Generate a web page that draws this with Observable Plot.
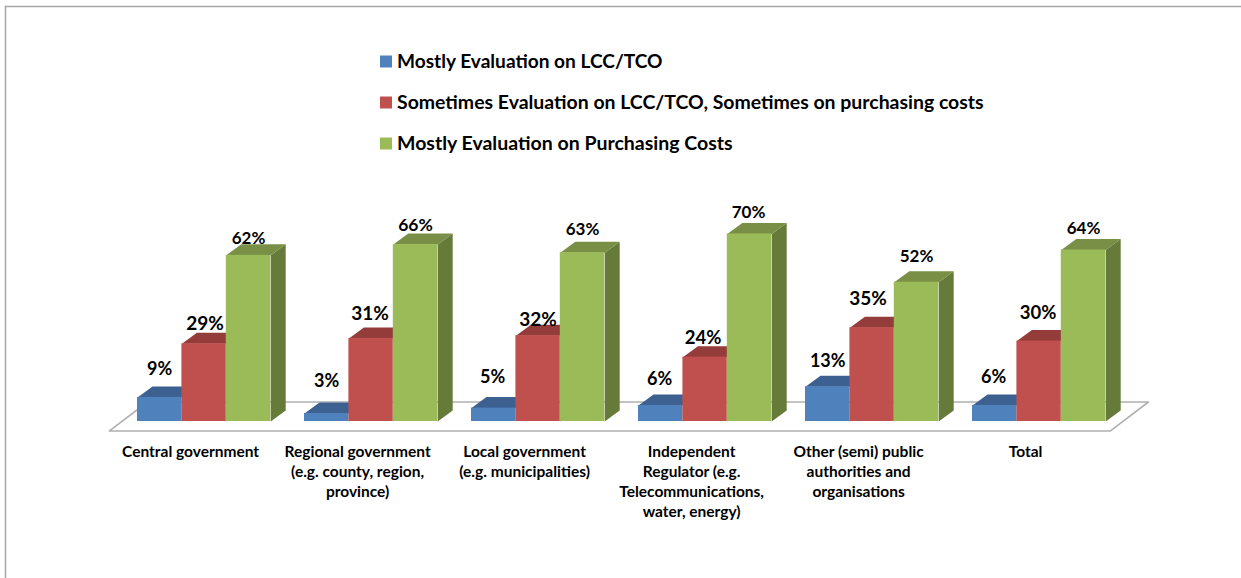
<!DOCTYPE html>
<html><head><meta charset="utf-8">
<style>html,body{margin:0;padding:0;background:#fff}svg{display:block}</style>
<script src="https://cdn.jsdelivr.net/npm/d3@7"></script>
<script src="https://cdn.jsdelivr.net/npm/@observablehq/plot@0.6"></script>
</head><body><div id="chart"></div>
<script>
const categories = ["Central government","Regional government\n(e.g. county, region,\nprovince)","Local government\n(e.g. municipalities)","Independent\nRegulator (e.g.\nTelecommunications,\nwater, energy)","Other (semi) public\nauthorities and\norganisations","Total"];
const seriesNames = ["Mostly Evaluation on LCC/TCO","Sometimes Evaluation on LCC/TCO, Sometimes on purchasing costs","Mostly Evaluation on Purchasing Costs"];
const mostlyLCC = [9,3,5,6,13,6];
const sometimes = [29,31,32,24,35,30];
const mostlyPurchasing = [62,66,63,70,52,64];

const seriesValues = [mostlyLCC, sometimes, mostlyPurchasing];
// styling, kept apart from the data
const front = ["#4f81bd","#c0504d","#9bbb59"], top_ = ["#3c6191","#943c3a","#788f45"], side = ["#3a5d8a","#8e3a38","#667a3a"];
const lift = [[28,32,31,26,25,28],[20,25,16,19,29,28],[17,19,23,21,26,21]];
const shiftX = [[0,0,-1,-1,0,-1],[1,-1,0,-2,-4,-1],[0,0,0,-1,0,0]];
const labelSize = [[18,18,18,18,18,18],[19,19,19,18.5,19,18.5],[17,17.5,17,17,17,17]];
const legendSize = [19.1,19.45,19.5];
const pxPerUnitX = 167, pxPerUnitY = 2.68, originX = 137, originY = 421;
const W = 1241, H = 578;
const barW = 44.4/pxPerUnitX, depthX = 15/pxPerUnitX, depthY = 11/pxPerUnitY;
const font = "Lato, 'Noto Sans', sans-serif";

const floor = [[-0.1677,-3.54],[5.826,-3.54],[6.0535,7.28],[0.0598,7.28]].map(([x,y])=>({x,y}));
const marks = [
  Plot.frame({anchor:"top",insetTop:6,insetLeft:5,stroke:"#a6a6a6",strokeWidth:1.5}),
  Plot.frame({anchor:"left",insetTop:6,insetLeft:5,stroke:"#a6a6a6",strokeWidth:1.5}),
  Plot.line([...floor,floor[0]],{x:"x",y:"y",fill:"#fff",stroke:"#b0b0b0",strokeWidth:1.6})
];
seriesValues.forEach((vals,s)=>{
  const rows = vals.map((v,g)=>({g,v,x1:g+s*barW,x2:g+(s+1)*barW}));
  const topPts = rows.flatMap(r=>[[r.x1,r.v],[r.x2,r.v],[r.x2+depthX,r.v+depthY],[r.x1+depthX,r.v+depthY]].map(([x,y])=>({x,y,id:r.g})));
  const sidePts = rows.flatMap(r=>[[r.x2,0],[r.x2,r.v],[r.x2+depthX,r.v+depthY],[r.x2+depthX,depthY]].map(([x,y])=>({x,y,id:r.g})));
  marks.push(
    Plot.line(sidePts,{x:"x",y:"y",z:"id",fill:side[s],stroke:null}),
    Plot.line(topPts,{x:"x",y:"y",z:"id",fill:top_[s],stroke:null}),
    Plot.rect(rows,{x1:"x1",x2:"x2",y1:0,y2:"v",fill:front[s],inset:0})
  );
});
seriesValues.forEach((vals,s)=>{
  vals.forEach((v,g)=>{
    marks.push(Plot.text([v+"%"],{x:[g+(s+.5)*barW],y:[v],dx:shiftX[s][g],dy:-lift[s][g],text:d=>d,fontSize:labelSize[s][g],fontWeight:700,fontFamily:font,fill:"#000",textAnchor:"middle",lineAnchor:"middle"}));
  });
});
marks.push(Plot.text(categories,{x:(d,i)=>i+1.5*barW,y:()=>0,dx:-13.5,dy:21,text:d=>d,lineAnchor:"top",lineHeight:1.29,fontSize:15.5,fontWeight:700,fontFamily:font,fill:"#000",textAnchor:"middle"}));
seriesNames.forEach((name,s)=>{
  marks.push(
    Plot.dot([name],{frameAnchor:"top-left",dx:385.5,dy:61+41*s,symbol:"square",r:6.77,fill:front[s],stroke:null}),
    Plot.text([name],{frameAnchor:"top-left",dx:396.5,dy:61+41*s,text:d=>d,textAnchor:"start",lineAnchor:"middle",fontSize:legendSize[s],fontWeight:700,fontFamily:font,fill:"#000"})
  );
});
const chart = Plot.plot({
  width:W,height:H,margin:0,
  x:{axis:null,domain:[-originX/pxPerUnitX,(W-originX)/pxPerUnitX],range:[0,W]},
  y:{axis:null,domain:[originY/pxPerUnitY,(originY-H)/pxPerUnitY],range:[0,H]},
  marks
});
document.getElementById("chart").append(chart);
</script></body></html>
